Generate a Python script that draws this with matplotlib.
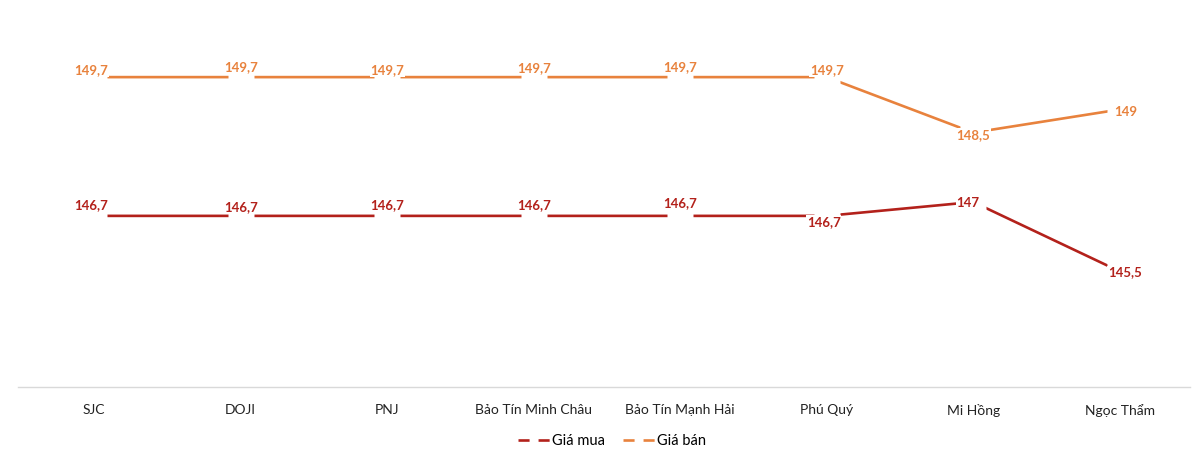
import matplotlib.pyplot as plt
from matplotlib.lines import Line2D

plt.rcParams['font.family'] = ['Lato', 'DejaVu Sans']

shops = ["SJC", "DOJI", "PNJ", "Bảo Tín Minh Châu", "Bảo Tín Mạnh Hải",
         "Phú Quý", "Mi Hồng", "Ngọc Thẩm"]
gia_mua = [146.7, 146.7, 146.7, 146.7, 146.7, 146.7, 147, 145.5]
gia_ban = [149.7, 149.7, 149.7, 149.7, 149.7, 149.7, 148.5, 149]

# label offsets in pixels (dx, dy)
off_mua = [(-3, 11), (0, 9), (0, 11), (0, 11), (0, 13), (-3, -6), (-5, -1), (5, -1)]
off_ban = [(-3, 7), (0, 10), (0, 7), (0, 9), (0, 10), (0, 7), (0, -2), (6, -2)]

c_mua = '#B3211B'
c_ban = '#E8823D'

fig = plt.figure(figsize=(12, 4.54), dpi=100)
ax = fig.add_axes([18 / 1200, 1 - 387 / 454, 1172 / 1200, 370 / 454])

x = list(range(len(shops)))
# white square markers leave the small gaps Excel shows around each point
ax.plot(x, gia_mua, color=c_mua, lw=1.9, solid_capstyle='butt',
        marker='s', ms=19, mfc='white', mec='none')
ax.plot(x, gia_ban, color=c_ban, lw=1.9, solid_capstyle='butt',
        marker='s', ms=19, mfc='white', mec='none')

def labels(vals, offs, color):
    for i, v in enumerate(vals):
        txt = ('%g' % v).replace('.', ',')
        ax.annotate(txt, (i, v), xytext=offs[i], textcoords='offset pixels',
                    ha='center', va='center', fontsize=9.5, fontweight='bold',
                    color=color, zorder=5,
                    bbox=dict(boxstyle='square,pad=0.05', fc='white', ec='none'))

labels(gia_mua, off_mua, c_mua)
labels(gia_ban, off_ban, c_ban)

ax.set_xlim(-0.52, 7.48)
ax.set_ylim(143.0, 151.0)
ax.set_yticks([])
ax.set_xticks(x)
ax.set_xticklabels(shops, fontsize=10, color='#222222')
ax.tick_params(axis='x', length=0, pad=12)
for s in ['top', 'right', 'left']:
    ax.spines[s].set_visible(False)
ax.spines['bottom'].set_color('#d9d9d9')
ax.spines['bottom'].set_linewidth(1)

handles = [Line2D([], [], color=c_mua, lw=1.9, linestyle=(0, (4.2, 3.4))),
           Line2D([], [], color=c_ban, lw=1.9, linestyle=(0, (4.2, 3.4)))]
fig.legend(handles, ["Giá mua", "Giá bán"], loc='center', ncol=2,
           bbox_to_anchor=(612 / 1200, 1 - 441 / 454), frameon=False,
           fontsize=10.5, handlelength=2.2, handletextpad=0.15, columnspacing=1.2)

fig.savefig('out.png', dpi=100)
